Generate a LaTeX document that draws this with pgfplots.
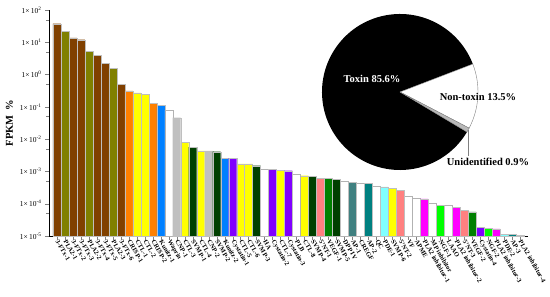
\documentclass[border=0pt]{standalone}
\usepackage{fontspec}
\setmainfont{Liberation Serif}
\usepackage{pgfplots}
\pgfplotsset{compat=1.18}
\usetikzlibrary{calc}

\definecolor{ftx}{RGB}{128,64,0}
\definecolor{pla}{RGB}{128,128,0}
\definecolor{crisp}{RGB}{255,128,0}
\definecolor{ctl}{RGB}{255,255,0}
\definecolor{kunitz}{RGB}{0,128,255}
\definecolor{cnp}{RGB}{192,192,192}
\definecolor{svmp}{RGB}{0,64,0}
\definecolor{cyst}{RGB}{128,0,255}
\definecolor{nt}{RGB}{255,128,128}
\definecolor{vegf}{RGB}{0,128,0}
\definecolor{apone}{RGB}{64,128,128}
\definecolor{ap}{RGB}{0,128,128}
\definecolor{pde}{RGB}{128,255,255}
\definecolor{inh}{RGB}{255,0,255}
\definecolor{ngf}{RGB}{0,255,0}

\begin{document}
\begin{tikzpicture}
\begin{axis}[
    scale only axis,
    width=479pt, height=226pt,
    ymode=log, log basis y=10, log origin y=infty,
    ymin=1e-5, ymax=100,
    xmin=0, xmax=60,
    ybar, bar width=1, bar shift=0pt,
    axis lines*=left,
    tick align=outside,
    major tick length=4pt,
    minor tick length=2.5pt,
    ytick={1e-5,1e-4,1e-3,1e-2,1e-1,1,10,100},
    minor ytick={5e-5,5e-4,5e-3,5e-2,0.5,5,50},
    yticklabel={1×\,10\textsuperscript{\pgfmathparse{int(round(\tick))}\pgfmathresult}},
    yticklabel style={font=\fontsize{7.5}{8}\selectfont},
    ylabel={FPKM\ \ \%},
    ylabel style={font=\fontsize{10.5}{12}\selectfont\bfseries},
    xtick={1,...,59},
    xticklabels={3-FTx-1,PLA2-1,3-FTx-2,3-FTx-3,PLA2-2,3-FTx-4,3-FTx-5,PLA2-3,3-FTx-6,
      CRISP-1,CTL-1,CTL-2,CRISP-2,Kunitz-1,Waprin,CNP-1,CTL-3,SVMP-1,CTL-4,CNP-2,
      SVMP-2,Kunitz-2,Cystatin-1,CTL-5,CTL-6,SVMP-3,HA,Cystatin-2,CTL-7,Cystatin-3,
      PLB,CTL-8,SVMP-4,5'NT-1,VEGF-1,SVMP-5,DPP IV,AP-1,CREGF,AP-2,QC,PDE-1,SVMP-6,
      5'NT-2,VF,APME,PLA2 inhibitor-1,MP inhibitor,NGF-1,LAAO,PLA2 inhibitor-2,
      5'NT-3,VEGF-2,Cystatin-4,NGF-2,PLA2 inhibitor-3,PDE-2,AP-3,PLA2 inhibitor-4},
    x tick label style={rotate=-60, anchor=west, font=\fontsize{6.5}{7}\selectfont\bfseries, inner sep=0.5pt},
    every axis plot/.append style={draw=black!25, line width=0.2pt},
]
% 3-FTx
\addplot[fill=ftx] coordinates {(1,37.6) (3,13.7) (4,12.1) (6,3.9) (7,2.26) (9,0.51)};
% PLA2
\addplot[fill=pla] coordinates {(2,22) (5,5.2) (8,1.58)};
% CRISP
\addplot[fill=crisp] coordinates {(10,0.31) (13,0.128)};
% CTL (and SVMP-6)
\addplot[fill=ctl] coordinates {(11,0.27) (12,0.25) (17,0.0079) (19,0.0043) (24,0.0017)
  (25,0.0017) (29,0.0011) (32,0.00074) (43,0.0003)};
% Kunitz
\addplot[fill=kunitz] coordinates {(14,0.11) (22,0.0026)};
% white bars
\addplot[fill=white, draw=black!30] coordinates {(15,0.079) (27,0.00117) (31,0.00083) (37,0.00049)
  (39,0.00044) (41,0.00036) (45,0.00017) (46,0.00015) (48,0.000107) (50,0.000089)};
% CNP
\addplot[fill=cnp] coordinates {(16,0.046) (20,0.0043)};
% SVMP
\addplot[fill=svmp] coordinates {(18,0.0057) (21,0.0041) (26,0.0015) (33,0.00072) (36,0.00058)};
% Cystatin
\addplot[fill=cyst] coordinates {(23,0.0026) (28,0.00114) (30,0.00105) (54,1.85e-5)};
% 5'NT
\addplot[fill=nt] coordinates {(34,0.00062) (44,0.00026) (52,6.3e-5)};
% VEGF
\addplot[fill=vegf] coordinates {(35,0.0006) (53,5.6e-5)};
% AP
\addplot[fill=apone] coordinates {(38,0.00046)};
\addplot[fill=ap] coordinates {(40,0.00042) (58,1.13e-5)};
% PDE
\addplot[fill=pde] coordinates {(42,0.00033) (57,1.15e-5)};
% PLA2 inhibitor
\addplot[fill=inh] coordinates {(47,0.00014) (51,7.9e-5) (56,1.65e-5) (59,1.05e-5)};
% NGF
\addplot[fill=ngf] coordinates {(49,9.1e-5) (55,1.7e-5)};

\coordinate (O) at (rel axis cs:0,0);
\end{axis}

% inset pie: Toxin 85.6, Non-toxin 13.5, Unidentified 0.9
\coordinate (pc) at ($(O)+(351pt,144pt)$);
\def\r{78pt}
\pgfmathsetmacro{\aA}{21}
\pgfmathsetmacro{\aB}{\aA-13.5*3.6}
\pgfmathsetmacro{\aC}{\aB-0.9*3.6}
\pgfmathsetmacro{\aD}{\aC-85.6*3.6}
\fill[black] (pc) -- ($(pc)+(\aC:\r)$) arc[start angle=\aC, end angle=\aD, radius=\r] -- cycle;
\filldraw[fill=white, draw=gray, line width=0.4pt] (pc) -- ($(pc)+(\aA:\r)$) arc[start angle=\aA, end angle=\aB, radius=\r] -- cycle;
\filldraw[fill=gray!55, draw=gray, line width=0.4pt] (pc) -- ($(pc)+(\aB:\r)$) arc[start angle=\aB, end angle=\aC, radius=\r] -- cycle;
\node[white, font=\fontsize{10.5}{12}\selectfont\bfseries] at ($(pc)+(-28pt,13pt)$) {Toxin 85.6\%};
\node[font=\fontsize{10.5}{12}\selectfont\bfseries] at ($(pc)+(78pt,-5pt)$) {Non-toxin 13.5\%};
\draw[gray, line width=0.4pt] ($(pc)+(-29.3:\r)$) -- ++(0,-26pt);
\node[font=\fontsize{10.5}{12}\selectfont\bfseries] at ($(pc)+(88pt,-70pt)$) {Unidentified 0.9\%};

\pgfresetboundingbox
\path[use as bounding box] ($(O)+(-49pt,-61pt)$) rectangle ($(O)+(501pt,236pt)$);
\end{tikzpicture}
\end{document}
